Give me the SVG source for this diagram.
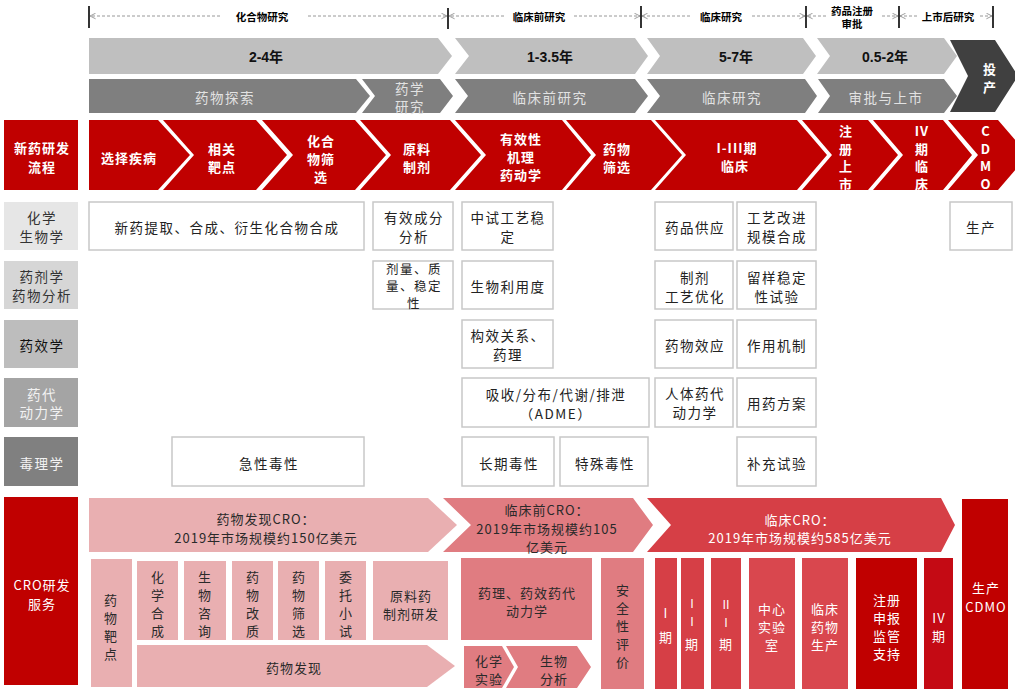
<svg xmlns="http://www.w3.org/2000/svg" width="1015" height="695" viewBox="0 0 1015 695">
<style>
text{font-family:"Noto Sans CJK SC","Liberation Sans",sans-serif;dominant-baseline:central;text-anchor:middle}
.tl{font-size:10.5px;font-weight:bold;fill:#000}
.yr{font-size:14px;font-weight:bold;fill:#111;font-family:"Liberation Sans","Noto Sans CJK SC",sans-serif}
.g1{fill:#bfbfbf}
.g2{fill:#7f7f7f}
.g2t{font-size:13.5px;fill:#e2e2e2;letter-spacing:1.5px}
.red{fill:#c00000}
.rt{font-size:13px;font-weight:bold;fill:#fff;letter-spacing:1px}
.cell{fill:#fff;stroke:#c8c8c8;stroke-width:1.5}
.ct{font-size:13.5px;fill:#222;letter-spacing:1.5px}
.cs{font-size:12.5px;fill:#222;letter-spacing:1.5px}
.lt{font-size:13.5px;letter-spacing:1.5px}
.p1{fill:#e9afb1}
.p2{fill:#e07c81}
.p3{fill:#d63f46}
.p4{fill:#c00000}
.dt{font-size:13px;fill:#2a2a2a;letter-spacing:1px}
.wt{font-size:13px;fill:#fff;letter-spacing:1px}
.ws{font-size:12px;fill:#fff}
.tick{stroke:#000;stroke-width:1.6}
.dash{stroke:#8c8c8c;stroke-width:0.9;stroke-dasharray:3 2;fill:none}
</style>
<defs>
<marker id="ah" viewBox="0 0 10 10" refX="9" refY="5" markerWidth="7" markerHeight="7" orient="auto" markerUnits="userSpaceOnUse">
<path d="M1,1 L9,5 L1,9" fill="none" stroke="#8c8c8c" stroke-width="1.2"/>
</marker>
</defs>

<g id="connectors">
<line class="tick" x1="89" y1="6" x2="89" y2="28"/>
<line class="tick" x1="448" y1="8" x2="448" y2="29"/>
<line class="tick" x1="641" y1="6" x2="641" y2="28"/>
<line class="tick" x1="806" y1="6" x2="806" y2="28"/>
<line class="tick" x1="899" y1="6" x2="899" y2="28"/>
<line class="tick" x1="993" y1="6" x2="993" y2="28"/>
<line class="dash" x1="220" y1="16" x2="90" y2="16" marker-end="url(#ah)"/>
<line class="dash" x1="308" y1="16" x2="447" y2="16" marker-end="url(#ah)"/>
<line class="dash" x1="504" y1="16" x2="449" y2="16" marker-end="url(#ah)"/>
<line class="dash" x1="574" y1="16" x2="640" y2="16" marker-end="url(#ah)"/>
<line class="dash" x1="690" y1="16" x2="642" y2="16" marker-end="url(#ah)"/>
<line class="dash" x1="752" y1="16" x2="805" y2="16" marker-end="url(#ah)"/>
<line class="dash" x1="826" y1="16" x2="807" y2="16" marker-end="url(#ah)"/>
<line class="dash" x1="882" y1="16" x2="898" y2="16" marker-end="url(#ah)"/>
<line class="dash" x1="917" y1="16" x2="900" y2="16" marker-end="url(#ah)"/>
<line class="dash" x1="980" y1="16" x2="992" y2="16" marker-end="url(#ah)"/>
</g>

<g id="timeline-labels">
<text class="tl" x="262" y="16">化合物研究</text>
<text class="tl" x="539" y="16">临床前研究</text>
<text class="tl" x="721" y="16">临床研究</text>
<text class="tl" x="852" y="10">药品注册</text>
<text class="tl" x="852" y="23">审批</text>
<text class="tl" x="948" y="16">上市后研究</text>
</g>

<g id="years">
<polygon class="g1" points="89,38 438,38 452,56 438,74 89,74"/>
<polygon class="g1" points="455,38 635,38 648,56 635,74 455,74 469,56"/>
<polygon class="g1" points="647,38 803,38 816,56 803,74 647,74 660,56"/>
<polygon class="g1" points="817,38 944,38 957,56 944,74 817,74 830,56"/>
<text class="yr" x="266" y="57">2-4年</text>
<text class="yr" x="550" y="57">1-3.5年</text>
<text class="yr" x="736" y="57">5-7年</text>
<text class="yr" x="885" y="57">0.5-2年</text>
</g>

<g id="stages">
<polygon class="g2" points="89,79 356,79 370,96 356,113 89,113"/>
<polygon class="g2" points="362,79 440,79 453,96 440,113 362,113 375,96"/>
<polygon class="g2" points="455,79 635,79 648,96 635,113 455,113 468,96"/>
<polygon class="g2" points="647,79 805,79 817,96 805,113 647,113 660,96"/>
<polygon class="g2" points="818,79 944,79 957,96 944,113 818,113 830,96"/>
<text class="g2t" x="225" y="97">药物探索</text>
<text class="g2t" x="410" y="88">药学</text>
<text class="g2t" x="410" y="106">研究</text>
<text class="g2t" x="550" y="97">临床前研究</text>
<text class="g2t" x="732" y="97">临床研究</text>
<text class="g2t" x="886" y="97">审批与上市</text>
</g>

<g id="touchan">
<polygon fill="#404040" points="950,40 995,40 1018,76 995,112 950,112 968,76"/>
<text class="rt" x="990" y="68">投</text>
<text class="rt" x="990" y="86">产</text>
</g>

<g id="process">
<rect class="red" x="4" y="120" width="74" height="70"/>
<text class="rt" x="42" y="147">新药研发</text>
<text class="rt" x="42" y="166">流程</text>
<polygon class="red" points="89,120 158,120 190,155 158,190 89,190"/>
<polygon class="red" points="163,120 256,120 287,155 256,190 163,190 194,155"/>
<polygon class="red" points="262,120 355,120 386,155 355,190 262,190 293,155"/>
<polygon class="red" points="360,120 450,120 481,155 450,190 360,190 391,155"/>
<polygon class="red" points="455,120 562,120 591,155 562,190 455,190 486,155"/>
<polygon class="red" points="566,120 651,120 682,155 651,190 566,190 596,155"/>
<polygon class="red" points="655,120 797,120 827,155 797,190 655,190 686,155"/>
<polygon class="red" points="802,120 868,120 898,155 868,190 802,190 832,155"/>
<polygon class="red" points="873,120 943,120 972,155 943,190 873,190 903,155"/>
<polygon class="red" points="948,120 998,120 1028,155 998,190 948,190 978,155"/>
<text class="rt" x="129" y="157">选择疾病</text>
<text class="rt" x="222" y="148">相关</text>
<text class="rt" x="222" y="166">靶点</text>
<text class="rt" x="321" y="140">化合</text>
<text class="rt" x="321" y="158">物筛</text>
<text class="rt" x="321" y="176">选</text>
<text class="rt" x="417" y="148">原料</text>
<text class="rt" x="417" y="166">制剂</text>
<text class="rt" x="521" y="138">有效性</text>
<text class="rt" x="521" y="156">机理</text>
<text class="rt" x="521" y="174">药动学</text>
<text class="rt" x="617" y="148">药物</text>
<text class="rt" x="617" y="166">筛选</text>
<text class="rt" x="737" y="147">I-III期</text>
<text class="rt" x="735" y="165">临床</text>
<text class="rt" x="846" y="130">注</text>
<text class="rt" x="846" y="148">册</text>
<text class="rt" x="846" y="165">上</text>
<text class="rt" x="846" y="183">市</text>
<text class="rt" x="922" y="130">IV</text>
<text class="rt" x="922" y="148">期</text>
<text class="rt" x="922" y="165">临</text>
<text class="rt" x="922" y="183">床</text>
<text class="rt" x="986" y="130">C</text>
<text class="rt" x="986" y="148">D</text>
<text class="rt" x="986" y="165">M</text>
<text class="rt" x="986" y="183">O</text>
</g>

<g id="row-labels">
<rect x="4" y="202" width="74" height="48" fill="#e6e6e6"/>
<text class="lt" fill="#333" x="42" y="217">化学</text>
<text class="lt" fill="#333" x="42" y="236">生物学</text>
<rect x="4" y="261" width="74" height="48" fill="#d6d6d6"/>
<text class="lt" fill="#333" x="42" y="276">药剂学</text>
<text class="lt" fill="#333" x="42" y="295">药物分析</text>
<rect x="4" y="320" width="74" height="48" fill="#bdbdbd"/>
<text class="lt" fill="#111" x="42" y="345">药效学</text>
<rect x="4" y="378" width="74" height="49" fill="#a4a4a4"/>
<text class="lt" fill="#f2f2f2" x="42" y="394">药代</text>
<text class="lt" fill="#f2f2f2" x="42" y="412">动力学</text>
<rect x="4" y="437" width="74" height="49" fill="#808080"/>
<text class="lt" fill="#f2f2f2" x="42" y="463">毒理学</text>
</g>

<g id="grid">
<rect class="cell" x="89" y="202" width="275" height="48"/>
<text class="ct" x="227" y="227">新药提取、合成、衍生化合物合成</text>
<rect class="cell" x="373" y="202" width="80" height="48"/>
<text class="ct" x="414" y="217">有效成分</text>
<text class="ct" x="414" y="236">分析</text>
<rect class="cell" x="462" y="202" width="91" height="48"/>
<text class="ct" x="508" y="217">中试工艺稳</text>
<text class="ct" x="508" y="236">定</text>
<rect class="cell" x="655" y="202" width="78" height="48"/>
<text class="ct" x="695" y="227">药品供应</text>
<rect class="cell" x="737" y="202" width="79" height="48"/>
<text class="ct" x="777" y="217">工艺改进</text>
<text class="ct" x="777" y="236">规模合成</text>
<rect class="cell" x="950" y="202" width="62" height="48"/>
<text class="ct" x="981" y="227">生产</text>

<rect class="cell" x="373" y="261" width="80" height="48"/>
<text class="cs" x="414" y="268">剂量、质</text>
<text class="cs" x="414" y="285">量、稳定</text>
<text class="cs" x="414" y="302">性</text>
<rect class="cell" x="462" y="261" width="91" height="48"/>
<text class="ct" x="508" y="286">生物利用度</text>
<rect class="cell" x="655" y="261" width="78" height="48"/>
<text class="ct" x="695" y="277">制剂</text>
<text class="ct" x="695" y="296">工艺优化</text>
<rect class="cell" x="737" y="261" width="79" height="48"/>
<text class="ct" x="777" y="277">留样稳定</text>
<text class="ct" x="777" y="296">性试验</text>

<rect class="cell" x="462" y="320" width="91" height="48"/>
<text class="ct" x="508" y="335">构效关系、</text>
<text class="ct" x="508" y="354">药理</text>
<rect class="cell" x="655" y="320" width="78" height="48"/>
<text class="ct" x="695" y="345">药物效应</text>
<rect class="cell" x="737" y="320" width="79" height="48"/>
<text class="ct" x="777" y="345">作用机制</text>

<rect class="cell" x="462" y="378" width="187" height="49"/>
<text class="ct" x="556" y="394">吸收/分布/代谢/排泄</text>
<text class="ct" x="556" y="413">（ADME）</text>
<rect class="cell" x="655" y="378" width="78" height="49"/>
<text class="ct" x="695" y="393">人体药代</text>
<text class="ct" x="695" y="412">动力学</text>
<rect class="cell" x="737" y="378" width="79" height="49"/>
<text class="ct" x="777" y="403">用药方案</text>

<rect class="cell" x="172" y="437" width="192" height="49"/>
<text class="ct" x="269" y="463">急性毒性</text>
<rect class="cell" x="462" y="437" width="92" height="49"/>
<text class="ct" x="509" y="463">长期毒性</text>
<rect class="cell" x="560" y="437" width="88" height="49"/>
<text class="ct" x="605" y="463">特殊毒性</text>
<rect class="cell" x="737" y="437" width="79" height="49"/>
<text class="ct" x="777" y="463">补充试验</text>
</g>

<g id="cro">
<rect class="p4" x="4" y="497" width="74" height="188"/>
<text class="wt" x="42" y="584">CRO研发</text>
<text class="wt" x="42" y="603">服务</text>

<polygon class="p1" points="89,498 428,498 457,525 428,552 89,552"/>
<text class="dt" x="266" y="518">药物发现CRO：</text>
<text class="dt" x="266" y="537">2019年市场规模约150亿美元</text>
<polygon class="p2" points="443,498 633,498 653,525 633,552 443,552 471,525"/>
<text class="dt" x="547" y="509">临床前CRO：</text>
<text class="dt" x="547" y="528">2019年市场规模约105</text>
<text class="dt" x="547" y="546">亿美元</text>
<polygon class="p3" points="647,498 941,498 955,525 941,552 647,552 671,525"/>
<text class="wt" x="800" y="519">临床CRO：</text>
<text class="wt" x="800" y="537">2019年市场规模约585亿美元</text>

<rect class="p1" x="91" y="559" width="41" height="128"/>
<text class="dt" x="111" y="599">药</text>
<text class="dt" x="111" y="617">物</text>
<text class="dt" x="111" y="635">靶</text>
<text class="dt" x="111" y="653">点</text>

<rect class="p1" x="137" y="561" width="41" height="79"/>
<text class="dt" x="158" y="576">化</text>
<text class="dt" x="158" y="594">学</text>
<text class="dt" x="158" y="612">合</text>
<text class="dt" x="158" y="630">成</text>
<rect class="p1" x="184" y="561" width="42" height="79"/>
<text class="dt" x="205" y="576">生</text>
<text class="dt" x="205" y="594">物</text>
<text class="dt" x="205" y="612">咨</text>
<text class="dt" x="205" y="630">询</text>
<rect class="p1" x="232" y="561" width="41" height="79"/>
<text class="dt" x="253" y="576">药</text>
<text class="dt" x="253" y="594">物</text>
<text class="dt" x="253" y="612">改</text>
<text class="dt" x="253" y="630">质</text>
<rect class="p1" x="278" y="561" width="41" height="79"/>
<text class="dt" x="299" y="576">药</text>
<text class="dt" x="299" y="594">物</text>
<text class="dt" x="299" y="612">筛</text>
<text class="dt" x="299" y="630">选</text>
<rect class="p1" x="325" y="561" width="41" height="79"/>
<text class="dt" x="346" y="576">委</text>
<text class="dt" x="346" y="594">托</text>
<text class="dt" x="346" y="612">小</text>
<text class="dt" x="346" y="630">试</text>
<rect class="p1" x="373" y="561" width="75" height="79"/>
<text class="dt" x="411" y="595">原料药</text>
<text class="dt" x="411" y="613">制剂研发</text>
<polygon class="p1" points="137,645 427,645 455,666 427,687 137,687"/>
<text class="dt" x="294" y="667">药物发现</text>

<rect class="p2" x="461" y="558" width="131" height="82"/>
<text class="dt" x="527" y="592">药理、药效药代</text>
<text class="dt" x="527" y="610">动力学</text>
<polygon class="p2" points="464,646 502,646 514,667 502,688 464,688"/>
<text class="dt" x="489" y="660">化学</text>
<text class="dt" x="489" y="678">实验</text>
<polygon class="p2" points="506,646 577,646 591,667 577,688 506,688 518,667"/>
<text class="dt" x="554" y="660">生物</text>
<text class="dt" x="554" y="678">分析</text>
<rect class="p2" x="601" y="558" width="43" height="131"/>
<text class="dt" x="623" y="589">安</text>
<text class="dt" x="623" y="607">全</text>
<text class="dt" x="623" y="625">性</text>
<text class="dt" x="623" y="643">评</text>
<text class="dt" x="623" y="661">价</text>

<rect class="p3" x="655" y="558" width="22" height="131"/>
<text class="wt" x="666" y="612">I</text>
<text class="wt" x="666" y="636">期</text>
<rect class="p3" x="681" y="558" width="23" height="131"/>
<text class="ws" x="692" y="602">I</text>
<text class="ws" x="692" y="620">I</text>
<text class="wt" x="692" y="643">期</text>
<rect class="p3" x="711" y="558" width="30" height="131"/>
<text class="ws" x="726" y="603">II</text>
<text class="ws" x="726" y="621">I</text>
<text class="wt" x="726" y="643">期</text>
<rect fill="#d9474e" x="749" y="558" width="46" height="131"/>
<text class="wt" x="772" y="608">中心</text>
<text class="wt" x="772" y="626">实验</text>
<text class="wt" x="772" y="644">室</text>
<rect fill="#d9474e" x="802" y="558" width="46" height="131"/>
<text class="wt" x="825" y="608">临床</text>
<text class="wt" x="825" y="626">药物</text>
<text class="wt" x="825" y="644">生产</text>
<rect class="p4" x="856" y="558" width="61" height="131"/>
<text class="wt" x="887" y="599">注册</text>
<text class="wt" x="887" y="617">申报</text>
<text class="wt" x="887" y="635">监管</text>
<text class="wt" x="887" y="653">支持</text>
<rect fill="#c40a14" x="924" y="558" width="29" height="131"/>
<text class="wt" x="939" y="617">IV</text>
<text class="wt" x="939" y="635">期</text>
<rect class="p4" x="962" y="499" width="46" height="190"/>
<text class="wt" x="986" y="587">生产</text>
<text class="wt" x="986" y="606">CDMO</text>
</g>
</svg>
